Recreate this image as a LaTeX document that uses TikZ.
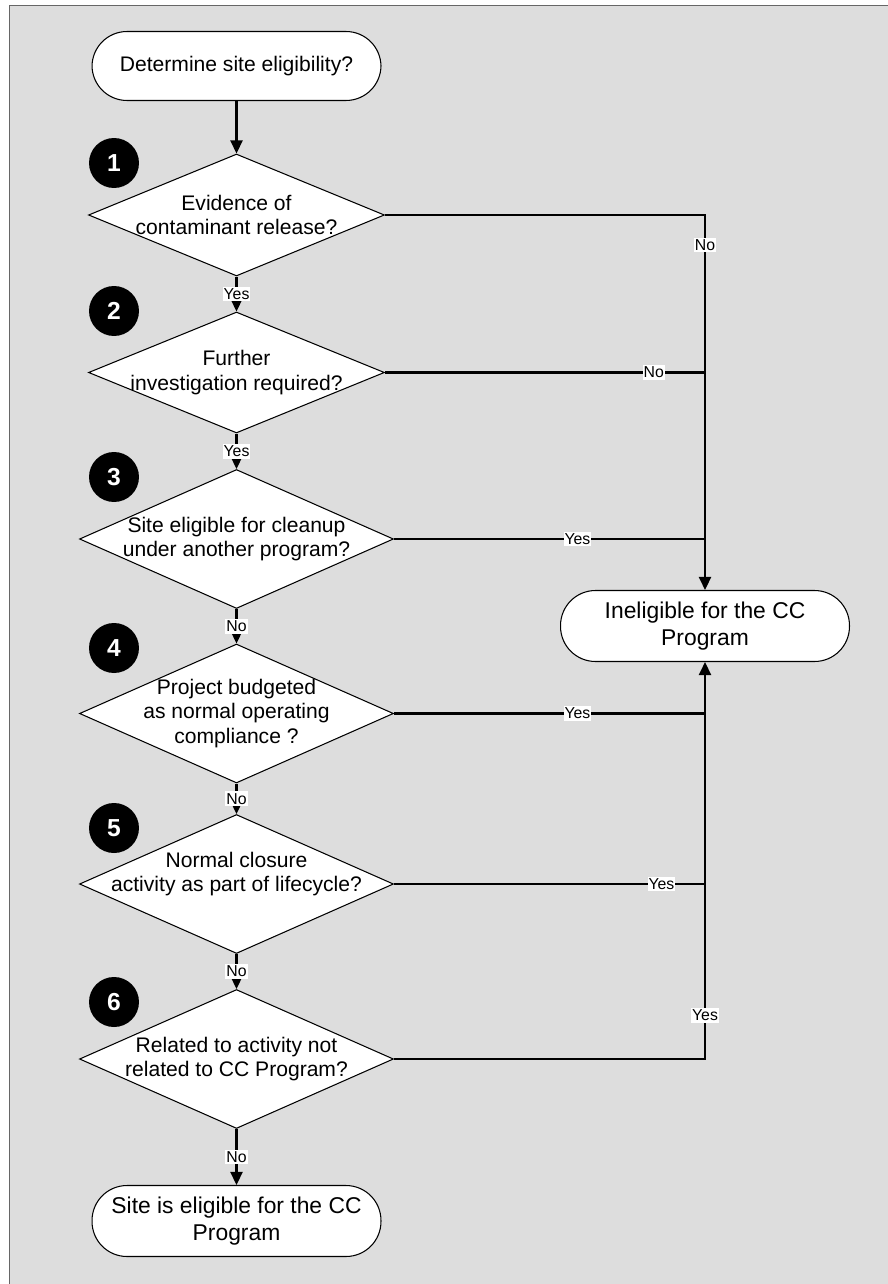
\documentclass[tikz,border=0pt]{standalone}
\usepackage{fontspec}
\setmainfont{Liberation Sans}
\usetikzlibrary{shapes.geometric,arrows.meta}
\definecolor{bggray}{RGB}{221,221,221}

\begin{document}
\begin{tikzpicture}[x=0.02cm,y=-0.02cm,
	term/.style={draw,fill=white,line width=0.6pt,rounded corners=0.7cm,minimum width=5.78cm,minimum height=1.42cm,align=center,font=\fontsize{13}{15.5}\selectfont},
	dia/.style={draw,fill=white,line width=0.6pt,diamond,aspect=2.25,inner sep=-0.16cm,minimum width=6.28cm,minimum height=2.78cm,align=center,font=\fontsize{12}{14}\selectfont},
	num/.style={circle,fill=black,text=white,minimum size=1cm,inner sep=0pt,font=\fontsize{14}{16}\selectfont\bfseries},
	wire/.style={line width=1.3pt},
	arr/.style={wire,-{Triangle[length=0.26cm,width=0.24cm]}},
	lbl/.style={fill=white,inner xsep=0.6pt,inner ysep=1pt,font=\fontsize{9}{10}\selectfont}]
	\clip (0,0) rectangle (888,1284);
	\draw[fill=bggray,draw=black!60] (9,5) rectangle (900,1300);

	\node[term,minimum height=1.38cm,font=\fontsize{12}{14}\selectfont] (start) at (236.5,66) {Determine site eligibility?};
	\node[dia,aspect=2.43,minimum width=5.92cm,minimum height=2.44cm] (q1) at (236.5,215) {Evidence of\\contaminant release?};
	\node[dia,aspect=2.43,minimum width=5.92cm,minimum height=2.42cm] (q2) at (236.5,372.5) {Further\\investigation required?};
	\node[dia] (q3) at (236.5,539) {Site eligible for cleanup\\under another program?};
	\node[dia] (q4) at (236.5,713.5) {Project budgeted\\as normal operating\\compliance ?};
	\node[dia,inner sep=-0.32cm] (q5) at (236.5,884) {Normal closure\\activity as part of lifecycle?\\\mbox{}};
	\node[dia] (q6) at (236.5,1059) {Related to activity not\\related to CC Program?};
	\node[term] (finish) at (236.5,1221) {Site is eligible for the CC\\Program};
	\node[term] (inel) at (705,626) {Ineligible for the CC\\Program};

	\node[num] (n1) at (114,163) {1};
	\node[num] (n2) at (114,311) {2};
	\node[num] (n3) at (114,477) {3};
	\node[num] (n4) at (114,648) {4};
	\node[num] (n5) at (114,828) {5};
	\node[num] (n6) at (114,1002) {6};

	\draw[arr] (start) -- (q1);
	\draw[arr] (q1) -- node[lbl]{Yes} (q2);
	\draw[arr] (q2) -- node[lbl]{Yes} (q3);
	\draw[arr] (q3) -- node[lbl]{No} (q4);
	\draw[arr] (q4) -- node[lbl]{No} (q5);
	\draw[arr] (q5) -- node[lbl]{No} (q6);
	\draw[arr] (q6) -- node[lbl]{No} (finish);

	\draw[arr] (q1.east) -| node[lbl,pos=0.54]{No} (inel.north);
	\draw[wire] (q2.east) -- node[lbl,pos=0.84]{No} (q2.east -| inel.north);
	\draw[wire] (q3.east) -- node[lbl,pos=0.59]{Yes} (q3.east -| inel.north);
	\draw[wire] (q4.east) -- node[lbl,pos=0.59]{Yes} (q4.east -| inel.south);
	\draw[wire] (q5.east) -- node[lbl,pos=0.86]{Yes} (q5.east -| inel.south);
	\draw[arr] (q6.east) -| node[lbl,pos=0.555]{Yes} (inel.south);
\end{tikzpicture}
\end{document}
